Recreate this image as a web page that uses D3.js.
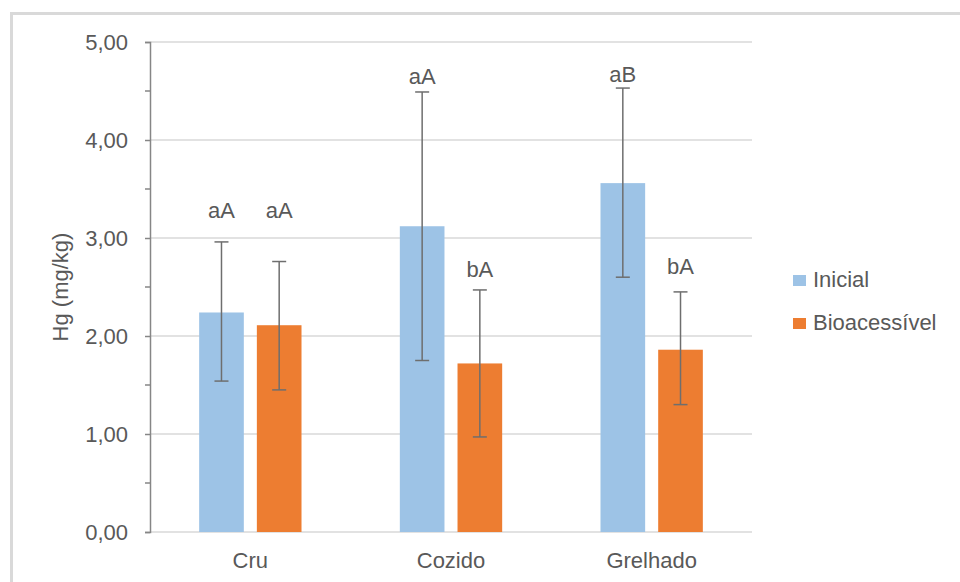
<!DOCTYPE html>
<html>
<head>
<meta charset="utf-8">
<script src="https://cdn.jsdelivr.net/npm/d3@7"></script>
<style>
  body { margin: 0; background: #fff; }
  svg text { font-family: "Liberation Sans", Arial, sans-serif; fill: #595959; }
</style>
</head>
<body>
<div id="chart"></div>
<script>
// Data
var categories = ["Cru", "Cozido", "Grelhado"];
var series = ["Inicial", "Bioacessível"];
var inicial = [2.24, 3.12, 3.56];
var inicialLow = [1.54, 1.75, 2.60];
var inicialHigh = [2.96, 4.49, 4.53];
var bio = [2.11, 1.72, 1.86];
var bioLow = [1.45, 0.97, 1.30];
var bioHigh = [2.76, 2.47, 2.45];
var inicialLabels = ["aA", "aA", "aB"];
var bioLabels = ["aA", "bA", "bA"];
var inicialLabelAt = [3.20, 4.57, 4.59];
var bioLabelAt = [3.20, 2.60, 2.63];
var yTicks = [0, 1, 2, 3, 4, 5];
var colors = ["#9DC3E6", "#ED7D31"];

var svgWidth = 960;
var svgHeight = 582;
var margin = { top: 42, right: 208, bottom: 50, left: 150 };
var width = svgWidth - margin.left - margin.right;
var height = svgHeight - margin.top - margin.bottom;

var svg = d3.select("#chart")
  .append("svg")
  .attr("width", svgWidth)
  .attr("height", svgHeight);

// Chart frame
svg.append("rect")
  .attr("x", 11.5)
  .attr("y", 13.5)
  .attr("width", 1000)
  .attr("height", 1000)
  .attr("fill", "none")
  .attr("stroke", "#d9d9d9")
  .attr("stroke-width", 3);

var chartGroup = svg.append("g")
  .attr("transform", `translate(${margin.left}, ${margin.top})`);

// Build rows from the arrays
var rows = categories.map(function(c, i) {
  return {
    cat: c,
    bars: [
      { s: series[0], v: inicial[i], lo: inicialLow[i], hi: inicialHigh[i], label: inicialLabels[i], at: inicialLabelAt[i] },
      { s: series[1], v: bio[i], lo: bioLow[i], hi: bioHigh[i], label: bioLabels[i], at: bioLabelAt[i] }
    ]
  };
});

// Scales
var x0 = d3.scaleBand()
  .domain(categories)
  .range([0, width])
  .paddingInner(0.49)
  .paddingOuter(0.245);

var x1 = d3.scaleBand()
  .domain(series)
  .range([0, x0.bandwidth()])
  .paddingInner(0.226);

var y = d3.scaleLinear()
  .domain([0, 5])
  .range([height, 0]);

var color = d3.scaleOrdinal().domain(series).range(colors);

// Gridlines
chartGroup.append("g")
  .selectAll("line")
  .data(yTicks)
  .enter()
  .append("line")
  .attr("x1", 0)
  .attr("x2", width)
  .attr("y1", d => y(d))
  .attr("y2", d => y(d))
  .attr("stroke", "#d9d9d9")
  .attr("stroke-width", 1.5);

// Bars
var groups = chartGroup.selectAll(".cat")
  .data(rows)
  .enter()
  .append("g")
  .attr("transform", d => `translate(${x0(d.cat)}, 0)`);

groups.selectAll("rect")
  .data(d => d.bars)
  .enter()
  .append("rect")
  .attr("x", d => x1(d.s))
  .attr("y", d => y(d.v))
  .attr("width", x1.bandwidth())
  .attr("height", d => y(0) - y(d.v))
  .attr("fill", d => color(d.s));

// Error bars
var err = groups.selectAll(".err")
  .data(d => d.bars)
  .enter()
  .append("g")
  .attr("stroke", "#6e6e6e")
  .attr("stroke-width", 1.5);

err.append("line")
  .attr("x1", d => x1(d.s) + x1.bandwidth() / 2)
  .attr("x2", d => x1(d.s) + x1.bandwidth() / 2)
  .attr("y1", d => y(d.lo))
  .attr("y2", d => y(d.hi));

err.selectAll(".cap")
  .data(d => [{ s: d.s, v: d.lo }, { s: d.s, v: d.hi }])
  .enter()
  .append("line")
  .attr("x1", d => x1(d.s) + x1.bandwidth() / 2 - 7)
  .attr("x2", d => x1(d.s) + x1.bandwidth() / 2 + 7)
  .attr("y1", d => y(d.v))
  .attr("y2", d => y(d.v));

// Significance labels
groups.selectAll(".lbl")
  .data(d => d.bars)
  .enter()
  .append("text")
  .attr("x", d => x1(d.s) + x1.bandwidth() / 2)
  .attr("y", d => y(d.at))
  .attr("text-anchor", "middle")
  .style("font-size", "22px")
  .text(d => d.label);

// Axes
var leftAxis = d3.axisLeft(y)
  .tickValues(yTicks)
  .tickSize(5)
  .tickPadding(17)
  .tickFormat(d => d3.format(".2f")(d).replace(".", ","));

var yAxisG = chartGroup.append("g").call(leftAxis);
yAxisG.select(".domain").attr("stroke", "#868686").attr("stroke-width", 1.5);
yAxisG.selectAll(".tick line").attr("stroke", "#868686").attr("stroke-width", 1.5);
yAxisG.selectAll(".tick text")
  .style("font-size", "22px")
  .style("fill", "#595959")
  .attr("font-family", null);

// Minor ticks
chartGroup.append("g")
  .selectAll("line")
  .data(yTicks.slice(0, -1).map(d => d + 0.5))
  .enter()
  .append("line")
  .attr("x1", -5)
  .attr("x2", 0)
  .attr("y1", d => y(d))
  .attr("y2", d => y(d))
  .attr("stroke", "#868686")
  .attr("stroke-width", 1.5);

// Category labels
chartGroup.append("g")
  .selectAll("text")
  .data(categories)
  .enter()
  .append("text")
  .attr("x", d => x0(d) + x0.bandwidth() / 2)
  .attr("y", height + 36)
  .attr("text-anchor", "middle")
  .style("font-size", "22px")
  .text(d => d);

// Axis title
chartGroup.append("text")
  .attr("transform", `translate(${-82}, ${height / 2}) rotate(-90)`)
  .attr("text-anchor", "middle")
  .style("font-size", "22px")
  .text("Hg (mg/kg)");

// Legend
var legend = svg.append("g")
  .attr("transform", "translate(793, 275)");

var items = legend.selectAll("g")
  .data(series)
  .enter()
  .append("g")
  .attr("transform", (d, i) => `translate(0, ${i * 43})`);

items.append("rect")
  .attr("width", 13)
  .attr("height", 11)
  .attr("fill", d => color(d));

items.append("text")
  .attr("x", 20)
  .attr("y", 12)
  .style("font-size", "22px")
  .text(d => d);
</script>
</body>
</html>
